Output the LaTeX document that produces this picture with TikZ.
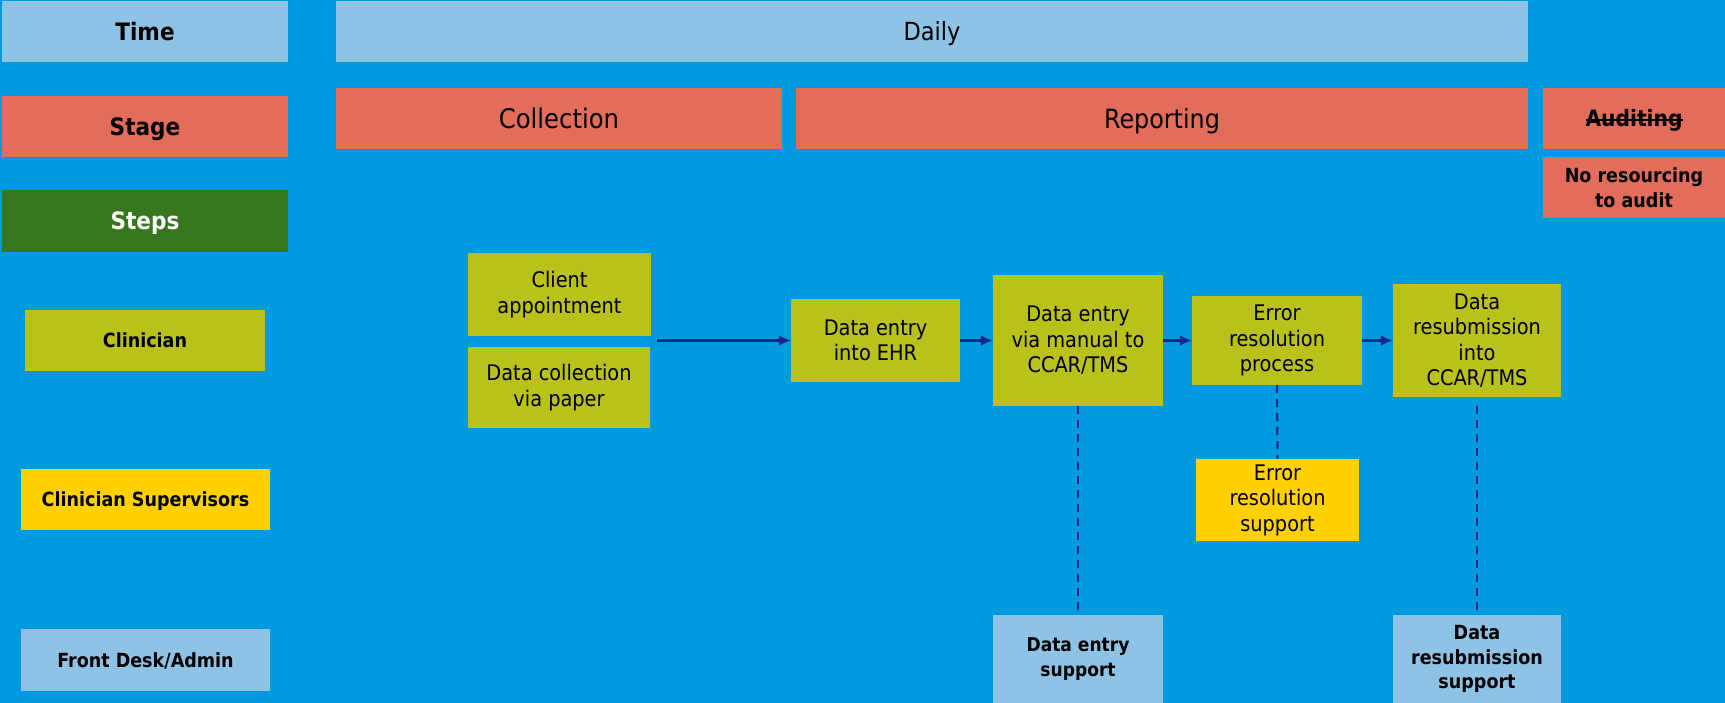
\documentclass[tikz,border=0pt]{standalone}
\usepackage{fontspec}
\setmainfont{DejaVu Sans Condensed}
\usetikzlibrary{arrows.meta}
\newsavebox{\strkbox}
\newcommand{\mystrike}[1]{\sbox{\strkbox}{#1}\rlap{\vrule height 0.36em depth -0.26em width \wd\strkbox}\usebox{\strkbox}}
\definecolor{bg}{RGB}{0,155,222}
\definecolor{lblue}{RGB}{142,195,230}
\definecolor{salmon}{RGB}{228,108,90}
\definecolor{dgreen}{RGB}{56,118,29}
\definecolor{olive}{RGB}{185,193,26}
\definecolor{yel}{RGB}{255,209,0}
\definecolor{navy}{RGB}{16,40,135}
\tikzset{
  box/.style={draw=none, inner sep=0pt, align=center, text=black},
  hdr/.style={box, text height=17.5pt, text depth=0pt, font=\fontsize{24}{28}\selectfont\bfseries},
  role/.style={box, text height=14.2pt, text depth=0pt, font=\fontsize{19.5}{22}\selectfont\bfseries},
  stepbox/.style={box, fill=olive, font=\fontsize{21.5}{25.5}\selectfont},
  arr/.style={draw=navy, line width=2.4pt, -{Latex[length=12pt,width=11pt]}},
  dsh/.style={draw=navy, line width=2.2pt, dash pattern=on 8pt off 6pt}
}
\begin{document}
\begin{tikzpicture}[x=1pt,y=-1pt]
\fill[bg] (0,0) rectangle (1725,703);
\useasboundingbox (0,0) rectangle (1725,703);
% left column
\node[hdr, fill=lblue, minimum width=286, minimum height=61] (time) at (145,31.5) {Time};
\node[hdr, fill=salmon, minimum width=286, minimum height=61] (stage) at (145,126.5) {Stage};
\node[hdr, fill=dgreen, text=white, minimum width=286, minimum height=62] (steps) at (145,221) {Steps};
\node[role, fill=olive, minimum width=240, minimum height=61] (clin) at (145,340.5) {Clinician};
\node[role, fill=yel, minimum width=249, minimum height=61] (csup) at (145.5,499.5) {Clinician Supervisors};
\node[role, fill=lblue, minimum width=249, minimum height=62] (fd) at (145.5,660) {Front Desk/Admin};
% top bands
\node[box, text height=18.2pt, text depth=0pt, fill=lblue, minimum width=1192, minimum height=61, font=\fontsize{25}{28}\selectfont] (daily) at (932,31.5) {Daily};
\node[box, text height=19.7pt, text depth=0pt, fill=salmon, minimum width=446, minimum height=61, font=\fontsize{27}{30}\selectfont] (coll) at (559,118.5) {Collection};
\node[box, text height=19.3pt, text depth=0pt, fill=salmon, minimum width=732, minimum height=61, font=\fontsize{26.5}{30}\selectfont] (rep) at (1162,118.5) {Reporting};
\node[box, text height=16.4pt, text depth=0pt, fill=salmon, minimum width=182, minimum height=61, font=\fontsize{22.5}{25}\selectfont\bfseries] (aud) at (1634,118.5) {\mystrike{Auditing}};
\node[box, fill=salmon, minimum width=182, minimum height=61, font=\fontsize{19.5}{24.5}\selectfont\bfseries] (nores) at (1634,187.5) {No resourcing\\to audit};
% steps
\node[stepbox, minimum width=183, minimum height=83] (ca) at (559.5,294.5) {Client\\appointment};
\node[stepbox, minimum width=182, minimum height=81] (dc) at (559,387.5) {Data collection\\via paper};
\node[stepbox, minimum width=169, minimum height=83] (ehr) at (875.5,340.5) {Data entry\\into EHR};
\node[stepbox, minimum width=170, minimum height=131] (man) at (1078,340.5) {Data entry\\via manual to\\CCAR/TMS};
\node[stepbox, minimum width=170, minimum height=89] (err) at (1277,340.5) {Error\\resolution\\process};
\node[stepbox, minimum width=168, minimum height=113] (res) at (1477,340.5) {Data\\resubmission\\into\\CCAR/TMS};
\node[box, fill=yel, minimum width=163, minimum height=82, font=\fontsize{21.5}{25.5}\selectfont] (errs) at (1277.5,500) {Error\\resolution\\support};
\node[box, fill=lblue, minimum width=170, minimum height=88, font=\fontsize{19}{25.5}\selectfont\bfseries] (des) at (1078,659) {Data entry\\support};
\node[box, fill=lblue, minimum width=168, minimum height=88, font=\fontsize{19.5}{24.5}\selectfont\bfseries] (rss) at (1477,659) {Data\\resubmission\\support};
% connectors
\coordinate (cstart) at (657,340.5);
\draw[arr] (cstart) -- (ehr.west);
\draw[arr] (ehr.east) -- (man.west);
\draw[arr] (man.east) -- (err.west);
\draw[arr] (err.east) -- (res.west);
\draw[dsh, shorten >=4pt] (man.south) -- (des.north);
\draw[dsh] (err.south) -- (errs.north);
\draw[dsh, shorten <=9pt, shorten >=5pt] (res.south) -- (rss.north);
\end{tikzpicture}
\end{document}
